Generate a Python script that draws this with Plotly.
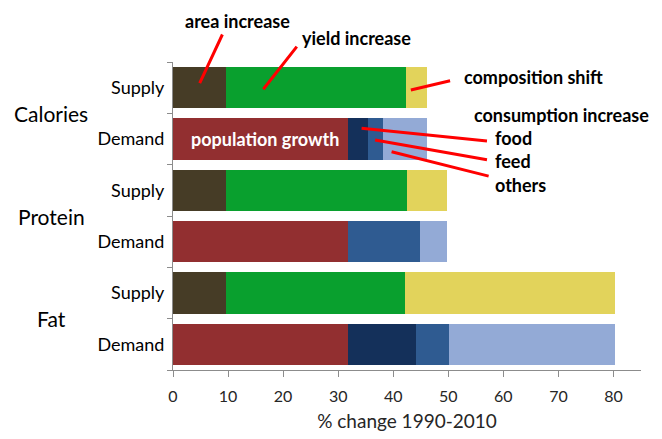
import plotly.graph_objects as go

# ---- data ----
row_labels = ["Supply", "Demand", "Supply", "Demand", "Supply", "Demand"]
groups = ["Calories", "Protein", "Fat"]
row_pos = [0, 1, 2, 3, 4, 5]

area_increase = [9.7, None, 9.7, None, 9.7, None]
yield_increase = [32.7, None, 32.8, None, 32.5, None]
composition_shift = [3.7, None, 7.2, None, 38.1, None]
population_growth = [None, 31.8, None, 31.7, None, 31.7]
food = [None, 3.7, None, 0.0, None, 12.4]
feed = [None, 2.7, None, 13.2, None, 6.1]
others = [None, 7.9, None, 4.9, None, 30.1]

x_ticks = [0, 10, 20, 30, 40, 50, 60, 70, 80]

series = [
    ("area increase", area_increase, "#463C26"),
    ("yield increase", yield_increase, "#09A02E"),
    ("composition shift", composition_shift, "#E2D35B"),
    ("population growth", population_growth, "#922F30"),
    ("food", food, "#14305A"),
    ("feed", feed, "#2F5B91"),
    ("others", others, "#93AAD6"),
]

FONT = "Lato"
fig = go.Figure()
for name, vals, col in series:
    fig.add_trace(go.Bar(
        x=vals, y=row_pos, orientation="h", name=name,
        marker=dict(color=col, line=dict(width=0)),
        showlegend=False, hoverinfo="x+name",
    ))

ax_col = "#8C8C8C"
# page body has an 8px margin, so the figure is sized 8px smaller
fig.update_layout(
    barmode="stack", bargap=0.2,
    width=654, height=431,
    margin=dict(l=165, r=21, t=54, b=69),
    plot_bgcolor="white", paper_bgcolor="white",
    font=dict(family=FONT, color="#000000"),
    xaxis=dict(
        range=[0, 85], tickvals=x_ticks, ticks="outside", ticklen=6,
        tickcolor=ax_col, showline=True, linecolor=ax_col, linewidth=1,
        showgrid=False, zeroline=False, tickfont=dict(size=16, color="#262626"),
        ticklabelstandoff=6, automargin=False,
        title=dict(text="% change 1990-2010", font=dict(size=19, color="#262626"), standoff=10),
    ),
    yaxis=dict(
        range=[5.5, -0.5], tickvals=row_pos, ticktext=row_labels, ticks="",
        showline=True, linecolor=ax_col, linewidth=1, showgrid=False,
        zeroline=False, tickfont=dict(size=18, color="#000000"),
        ticklabelstandoff=4, automargin=False,
        minor=dict(tickmode="array", tickvals=[-0.5, 0.5, 1.5, 2.5, 3.5, 4.5, 5.5],
                   ticks="outside", ticklen=5, tickcolor=ax_col, showgrid=False),
    ),
)

# group labels
for i, g in enumerate(groups):
    fig.add_annotation(text=g, xref="paper", x=-0.26, xanchor="center",
                       yref="y", y=2 * i + 0.5, showarrow=False,
                       font=dict(size=21, family=FONT, color="#000000"))

# leader lines (red)
leaders = [
    (4.85, -0.09, 9.1, -1.065),
    (16.4, 0.03, 22.7, -0.83),
    (43.2, 0.045, 50.6, -0.14),
    (34.25, 0.79, 57.3, 1.04),
    (36.7, 1.02, 57.3, 1.41),
    (39.7, 1.25, 57.6, 1.73),
]
for hx, hy, tx, ty in leaders:
    fig.add_annotation(x=hx, y=hy, xref="x", yref="y", ax=tx, ay=ty,
                       axref="x", ayref="y", text="", showarrow=True,
                       arrowhead=0, arrowwidth=3, arrowcolor="#FF0000",
                       standoff=0, startstandoff=0)

# labels  (text, x, y, anchor, extra pixel lift above the plot top)
bold = dict(size=18, family=FONT, color="#000000", weight="bold")
labels = [
    ("area increase", 11.8, -0.5, "center", 41),
    ("yield increase", 33.3, -0.5, "center", 24),
    ("composition shift", 52.4, -0.20, "left", 0),
    ("consumption increase", 54.3, 0.53, "left", 0),
    ("food", 58.2, 0.99, "left", 0),
    ("feed", 58.2, 1.42, "left", 0),
    ("others", 58.2, 1.90, "left", 0),
]
for t, x, y, anc, lift in labels:
    fig.add_annotation(text=t, x=x, y=y, xref="x", yref="y", xanchor=anc,
                       yshift=lift, showarrow=False, font=bold)

fig.add_annotation(text="population growth", x=16.7, y=1.0, xref="x", yref="y",
                   showarrow=False,
                   font=dict(size=18, family=FONT, color="#FFFFFF", weight="bold"))

fig.write_html("out.html")
